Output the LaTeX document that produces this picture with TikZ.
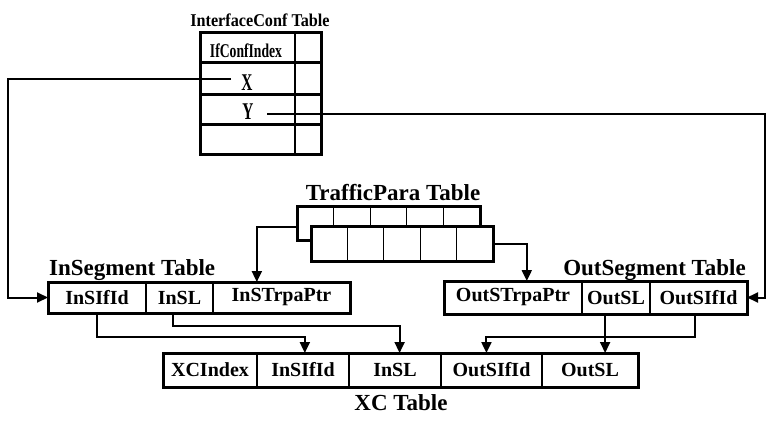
\documentclass[tikz,border=0pt]{standalone}
\usepackage{fontspec}
\setmainfont{Liberation Serif}
\newfontfamily\narrowserif[FakeStretch=0.7]{Liberation Serif}
\newfontfamily\slimserif[FakeStretch=0.64]{Liberation Serif}
\newfontfamily\titleserif[FakeStretch=0.9]{Liberation Serif}
\usetikzlibrary{arrows.meta,calc}

\begin{document}
\begin{tikzpicture}[x=1pt,y=-1pt,
  cell/.style={draw, line width=1.8pt, inner sep=0pt, outer sep=0pt, anchor=north west,
    font=\fontsize{20}{22}\selectfont\bfseries},
  thincell/.style={draw, line width=1.3pt, inner sep=0pt, outer sep=0pt, anchor=north west},
  box/.style={inner sep=0pt, outer sep=0pt, anchor=north west},
  frame/.style={line width=3pt},
  tabtitle/.style={inner sep=0pt, font=\fontsize{23}{26}\selectfont\bfseries},
  iflabel/.style={inner sep=0pt, anchor=base, font=\slimserif\fontsize{24}{26}\selectfont\bfseries},
  conn/.style={line width=2pt},
  arr/.style={conn, -{Triangle[length=11pt,width=10pt]}}
]
\useasboundingbox (0,0) rectangle (766,423);

% ---------- InterfaceConf table ----------
\node[tabtitle, anchor=base, font=\titleserif\fontsize{18}{20}\selectfont\bfseries] (iftitle) at (260,27) {InterfaceConf Table};
\node[thincell, minimum width=95pt, minimum height=30pt] (if1) at (200,32) {};
\node[thincell, minimum width=95pt, minimum height=32pt] (if2) at (200,62) {};
\node[thincell, minimum width=95pt, minimum height=30pt] (if3) at (200,94) {};
\node[thincell, minimum width=95pt, minimum height=30pt] (if4) at (200,124) {};
\node[thincell, minimum width=26pt, minimum height=30pt] (ifr1) at (295,32) {};
\node[thincell, minimum width=26pt, minimum height=32pt] (ifr2) at (295,62) {};
\node[thincell, minimum width=26pt, minimum height=30pt] (ifr3) at (295,94) {};
\node[thincell, minimum width=26pt, minimum height=30pt] (ifr4) at (295,124) {};
\draw[frame] (if1.north west) rectangle (ifr4.south east);
\foreach \r in {2,3,4}
  \draw[frame] (if\r.north west) -- ([xshift=1.5pt]ifr\r.north east);
\node[iflabel, font=\narrowserif\fontsize{19.5}{22}\selectfont\bfseries] (idxlab) at (246,57) {IfConfIndex};
\node[iflabel] (xlab) at (247,90) {X};
\node[iflabel] (ylab) at (248,119) {Y};
\coordinate (xsrc) at (231,79);
\coordinate (ysrc) at (267,114);

% ---------- TrafficPara table ----------
\node[tabtitle, anchor=base] (tptitle) at (393,200) {TrafficPara Table};
\foreach \i in {1,...,5}
  \node[thincell, minimum width=36.6pt, minimum height=34pt] (tpb\i) at ({297+36.6*(\i-1)},206) {};
\node[box, minimum width=183pt, minimum height=34pt] (tpb) at (297,206) {};
\draw[frame] (tpb.north west) rectangle (tpb.south east);
\fill[white] (311,226) rectangle (493,261);
\foreach \i in {1,...,5}
  \node[thincell, minimum width=36.4pt, minimum height=35pt] (tpf\i) at ({311+36.4*(\i-1)},226) {};
\node[box, minimum width=182pt, minimum height=35pt] (tpf) at (311,226) {};
\draw[frame] (tpf.north west) rectangle (tpf.south east);

% ---------- InSegment table ----------
\node[tabtitle, anchor=base west] (intitle) at (49,275) {InSegment Table};
\node[cell, minimum width=98pt, minimum height=31pt] (ins1) at (48,282) {InSIfId};
\node[cell, minimum width=67pt, minimum height=31pt] (ins2) at (146,282) {InSL};
\node[cell, minimum width=137pt, minimum height=31pt] (ins3) at (213,282) {InSTrpaPtr};
\draw[frame] (ins1.north west) rectangle (ins3.south east);

% ---------- OutSegment table ----------
\node[tabtitle, anchor=base east] (outtitle) at (746,275) {OutSegment Table};
\node[cell, minimum width=138pt, minimum height=33pt] (outs1) at (444,281) {OutSTrpaPtr};
\node[cell, minimum width=68pt, minimum height=33pt] (outs2) at (582,281) {OutSL};
\node[cell, minimum width=97pt, minimum height=33pt] (outs3) at (650,281) {OutSIfId};
\draw[frame] (outs1.north west) rectangle (outs3.south east);

% ---------- XC table ----------
\node[cell, minimum width=94pt, minimum height=34pt] (xc1) at (163,353) {XCIndex};
\node[cell, minimum width=92pt, minimum height=34pt] (xc2) at (257,353) {InSIfId};
\node[cell, minimum width=92pt, minimum height=34pt] (xc3) at (349,353) {InSL};
\node[cell, minimum width=101pt, minimum height=34pt] (xc4) at (441,353) {OutSIfId};
\node[cell, minimum width=96pt, minimum height=34pt] (xc5) at (542,353) {OutSL};
\draw[frame] (xc1.north west) rectangle (xc5.south east);
\node[tabtitle, anchor=base] (xctitle) at (401,410) {XC Table};

% ---------- connectors ----------
\draw[arr] (xsrc) -- ++(-223,0) |- (ins1.west);
\draw[arr] (ysrc) -- ++(498,0) |- (outs3.east);
\draw[arr] ([yshift=-4pt]tpb.west) -| ($(ins3.north west)!0.32!(ins3.north east)$);
\draw[arr] (tpf.east) -| ($(outs1.north west)!0.6!(outs1.north east)$);
\draw[arr] (ins1.south) -- ++(0,24) -| ($(xc2.north west)!0.52!(xc2.north east)$);
\draw[arr] ($(ins2.south west)!0.4!(ins2.south east)$) -- ++(0,13) -| ($(xc3.north west)!0.55!(xc3.north east)$);
\coordinate (osl) at ($(outs2.south west)!0.34!(outs2.south east)$);
\draw[arr] (osl) -- (osl |- xc5.north);
\draw[arr] ($(outs3.south west)!0.46!(outs3.south east)$) -- ++(0,23) -| ($(xc4.north west)!0.45!(xc4.north east)$);
\end{tikzpicture}
\end{document}
